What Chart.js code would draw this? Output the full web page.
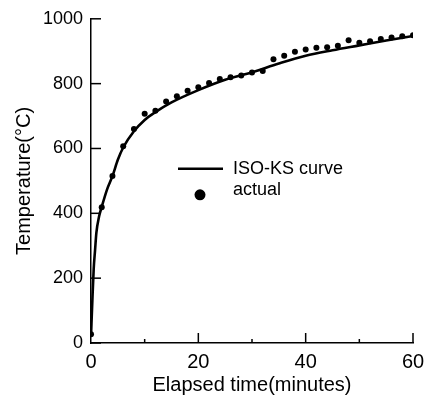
<!DOCTYPE html>
<html>
<head>
<meta charset="utf-8">
<script src="https://cdn.jsdelivr.net/npm/chart.js@4"></script>
<style>
  html, body { margin: 0; padding: 0; background: #fff; }
  #wrap { width: 433px; height: 397px; }
</style>
</head>
<body>
<div id="wrap"><canvas id="fire"></canvas></div>
<script>
// ISO-KS standard curve
const isoTime = [0, 0.25, 0.5, 0.75, 1, 1.5, 2, 3, 4, 5, 6, 8, 10, 12, 15, 20, 25, 30, 35, 40, 45, 50, 55, 60];
const isoTemp = [20, 130, 228, 285, 340, 390, 420, 474, 515, 565, 603, 653, 688, 712, 742, 780, 812, 835, 862, 886, 903, 918, 933, 947];

// measured furnace temperature (every 2 minutes)
const actualTime = [0, 2, 4, 6, 8, 10, 12, 14, 16, 18, 20, 22, 24, 26, 28, 30, 32, 34, 36, 38, 40, 42, 44, 46, 48, 50, 52, 54, 56, 58, 60];
const actualTemp = [27, 419, 515, 607, 660, 707, 716, 745, 761, 778, 789, 802, 814, 820, 825, 834, 839, 875, 886, 898, 905, 911, 912, 917, 934, 926, 931, 938, 942, 946, 949];

const xTicks = [0, 20, 40, 60];
const xMarks = [10, 20, 30, 40, 50, 60];
const yTicks = [0, 200, 400, 600, 800, 1000];

const FONT = "'Liberation Sans', Arial, sans-serif";

// inward tick marks + legend inside the plot
const decor = {
  id: "decor",
  afterDraw(chart) {
    const ctx = chart.ctx;
    const xs = chart.scales.x, ys = chart.scales.y;
    const left = xs.left, bottom = ys.bottom;
    ctx.save();
    ctx.strokeStyle = "#000";
    ctx.lineWidth = 1.5;
    yTicks.forEach(v => {
      const y = ys.getPixelForValue(v);
      ctx.beginPath(); ctx.moveTo(left, y); ctx.lineTo(left + 10, y); ctx.stroke();
    });
    xMarks.forEach(v => {
      const x = xs.getPixelForValue(v);
      const len = v % 20 === 0 ? 10 : 4;
      ctx.beginPath(); ctx.moveTo(x, bottom); ctx.lineTo(x, bottom - len); ctx.stroke();
    });

    // legend
    const lx = chart.chartArea.left + 87, ly = chart.chartArea.top + 150;
    ctx.lineWidth = 2.5;
    ctx.beginPath(); ctx.moveTo(lx, ly); ctx.lineTo(lx + 45, ly); ctx.stroke();
    ctx.fillStyle = "#000";
    ctx.beginPath(); ctx.arc(lx + 22, ly + 26, 5.5, 0, Math.PI * 2); ctx.fill();
    ctx.font = "18px " + FONT;
    ctx.textBaseline = "middle";
    ctx.fillText("ISO-KS curve", lx + 55, ly);
    ctx.fillText("actual", lx + 55, ly + 21);
    ctx.restore();
  }
};

new Chart(document.getElementById("fire"), {
  type: "scatter",
  data: {
    datasets: [
      {
        label: "ISO-KS curve",
        data: isoTime.map((t, i) => ({ x: t, y: isoTemp[i] })),
        showLine: true,
        borderColor: "#000",
        borderWidth: 2.6,
        pointRadius: 0,
        cubicInterpolationMode: "monotone"
      },
      {
        label: "actual",
        data: actualTime.map((t, i) => ({ x: t, y: actualTemp[i] })),
        showLine: false,
        backgroundColor: "#000",
        borderColor: "#000",
        pointRadius: 3,
        pointBorderWidth: 0
      }
    ]
  },
  options: {
    responsive: true,
    maintainAspectRatio: false,
    animation: false,
    layout: { padding: { top: 15, right: 20, left: 0, bottom: 0 } },
    plugins: { legend: { display: false }, tooltip: { enabled: false } },
    scales: {
      x: {
        type: "linear",
        min: 0, max: 60,
        afterBuildTicks: s => { s.ticks = xTicks.map(v => ({ value: v })); },
        afterFit: s => { s.height = 54; },
        grid: { display: false, drawTicks: false },
        border: { display: true, color: "#000", width: 1.5 },
        ticks: { color: "#000", font: { family: FONT, size: 20 }, padding: 7, callback: v => v },
        title: { display: true, text: "Elapsed time(minutes)", color: "#000", font: { family: FONT, size: 20 }, padding: { top: 0, bottom: 0 } }
      },
      y: {
        min: 0, max: 1000,
        afterBuildTicks: s => { s.ticks = yTicks.map(v => ({ value: v })); },
        afterFit: s => { s.width = 91; },
        grid: { display: false, drawTicks: false },
        border: { display: true, color: "#000", width: 1.5 },
        ticks: { color: "#000", font: { family: FONT, size: 18 }, padding: 8, callback: v => v },
        title: { display: true, text: "Temperature(°C)", color: "#000", font: { family: FONT, size: 20 }, padding: { top: 12, bottom: 0 } }
      }
    }
  },
  plugins: [decor]
});
</script>
</body>
</html>
